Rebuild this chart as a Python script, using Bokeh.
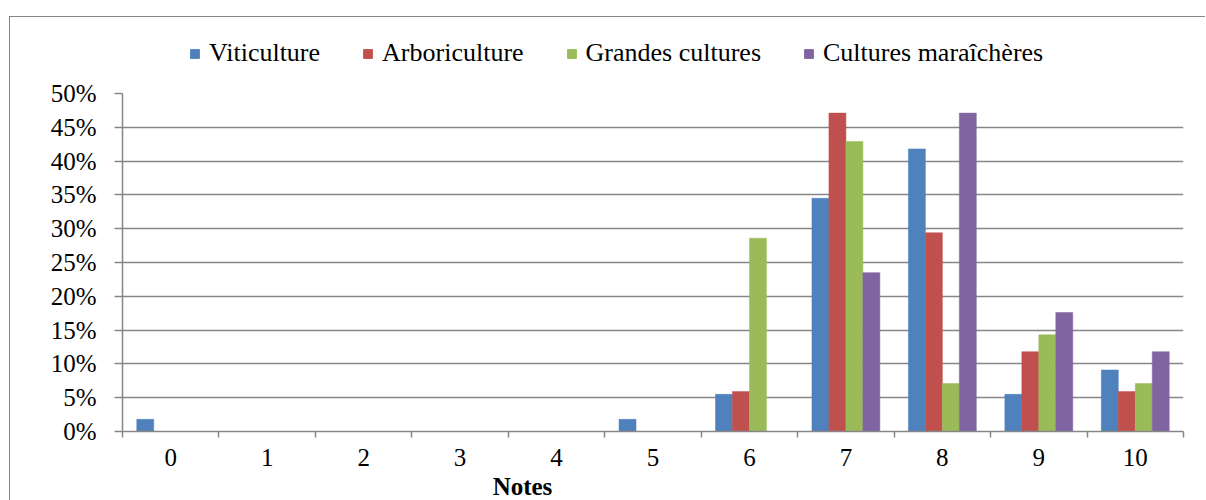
from bokeh.plotting import figure
from bokeh.models import (ColumnDataSource, Range1d, FixedTicker, NumeralTickFormatter,
                          Legend, LegendItem, Label, Spacer)
from bokeh.transform import dodge
from bokeh.layouts import column, row
from bokeh.embed import file_html
from bokeh.resources import INLINE

notes = ["0", "1", "2", "3", "4", "5", "6", "7", "8", "9", "10"]
series = ["Viticulture", "Arboriculture", "Grandes cultures", "Cultures maraîchères"]
colors = ["#4F81BD", "#C0504D", "#9BBB59", "#8064A2"]
viticulture = [0.018, 0, 0, 0, 0, 0.018, 0.055, 0.345, 0.418, 0.055, 0.091]
arboriculture = [0, 0, 0, 0, 0, 0, 0.059, 0.471, 0.294, 0.118, 0.059]
grandes_cultures = [0, 0, 0, 0, 0, 0, 0.286, 0.429, 0.071, 0.143, 0.071]
maraicheres = [0, 0, 0, 0, 0, 0, 0, 0.235, 0.471, 0.176, 0.118]
y_ticks = [0, 0.05, 0.10, 0.15, 0.20, 0.25, 0.30, 0.35, 0.40, 0.45, 0.50]
x_title = "Notes"

FONT = "Liberation Serif"
GRID = "#868686"
FS = "25px"
W = 1195

xpos = list(range(len(notes)))
src = ColumnDataSource(dict(x=xpos, v=viticulture, a=arboriculture,
                            g=grandes_cultures, m=maraicheres))
cols = ["v", "a", "g", "m"]


def strip(height):
    f = figure(width=W, height=height, output_backend="svg", toolbar_location=None,
               x_range=Range1d(-0.5, len(notes) - 0.5), y_range=Range1d(5, 6),
               min_border_left=0, min_border_right=0, min_border_top=0, min_border_bottom=0)
    f.axis.visible = False
    f.grid.visible = False
    f.outline_line_color = None
    return f


# ---- legend strip (its bars sit outside its visible y range; only the legend shows) ----
lg = strip(60)
items = []
for c, s, col in zip(cols, series, colors):
    r = lg.vbar(x="x", top=c, width=0.1, source=src, fill_color=col, line_color=col)
    items.append(LegendItem(label=s, renderers=[r]))
legend = Legend(items=items, orientation="horizontal", location=(67, 9),
                glyph_width=11, glyph_height=11, label_standoff=9, spacing=42,
                padding=0, margin=0, border_line_color=None, background_fill_alpha=0,
                label_text_font=FONT, label_text_font_size="26px", label_text_color="black")
lg.add_layout(legend, "center")

# ---- main chart ----
p = figure(width=W, height=393, output_backend="svg", toolbar_location=None,
           x_range=Range1d(-0.5, len(notes) - 0.5), y_range=Range1d(0, 0.5),
           min_border_left=112, min_border_right=22, min_border_top=16,
           min_border_bottom=39)
p.outline_line_color = None

bw = 0.176
for j, (c, col) in enumerate(zip(cols, colors)):
    p.vbar(x=dodge("x", (j - 1.5) * bw, range=p.x_range), top=c, width=bw,
           source=src, fill_color=col, line_color=col, line_width=0.5)

p.xaxis.ticker = FixedTicker(ticks=xpos, minor_ticks=[i - 0.5 for i in range(len(notes) + 1)])
p.xaxis.major_label_overrides = {i: n for i, n in enumerate(notes)}
p.xaxis.major_tick_out = 0
p.xaxis.major_tick_in = 0
p.xaxis.minor_tick_out = 6
p.xaxis.minor_tick_in = 0
p.xaxis.minor_tick_line_color = GRID
p.xaxis.minor_tick_line_width = 1.5
p.xaxis.axis_line_color = GRID
p.xaxis.axis_line_width = 1.5
p.xaxis.major_label_text_font = FONT
p.xaxis.major_label_text_font_size = FS
p.xaxis.major_label_text_color = "black"
p.xaxis.major_label_standoff = 11

p.yaxis.ticker = FixedTicker(ticks=y_ticks)
p.yaxis.formatter = NumeralTickFormatter(format="0%")
p.yaxis.major_tick_out = 8
p.yaxis.major_tick_in = 0
p.yaxis.minor_tick_line_color = None
p.yaxis.major_tick_line_color = GRID
p.yaxis.major_tick_line_width = 1.5
p.yaxis.axis_line_color = GRID
p.yaxis.axis_line_width = 1.5
p.yaxis.major_label_text_font = FONT
p.yaxis.major_label_text_font_size = FS
p.yaxis.major_label_text_color = "black"
p.yaxis.major_label_standoff = 18

p.xgrid.grid_line_color = None
p.ygrid.grid_line_color = GRID
p.ygrid.grid_line_width = 1.5

# ---- x title strip ----
tt = strip(30)
tt.add_layout(Label(x=3.647, y=1, x_units="data", y_units="screen", text=x_title,
                    text_align="center", text_baseline="bottom", text_font=FONT,
                    text_font_size=FS, text_font_style="bold", text_color="black"))

box = column(lg, p, tt, spacing=0,
             styles={"border-top": "1px solid #868686", "border-left": "1px solid #868686"})
layout = column(Spacer(height=16), row(Spacer(width=9), box))
open("out.html", "w").write(file_html(layout, INLINE))
